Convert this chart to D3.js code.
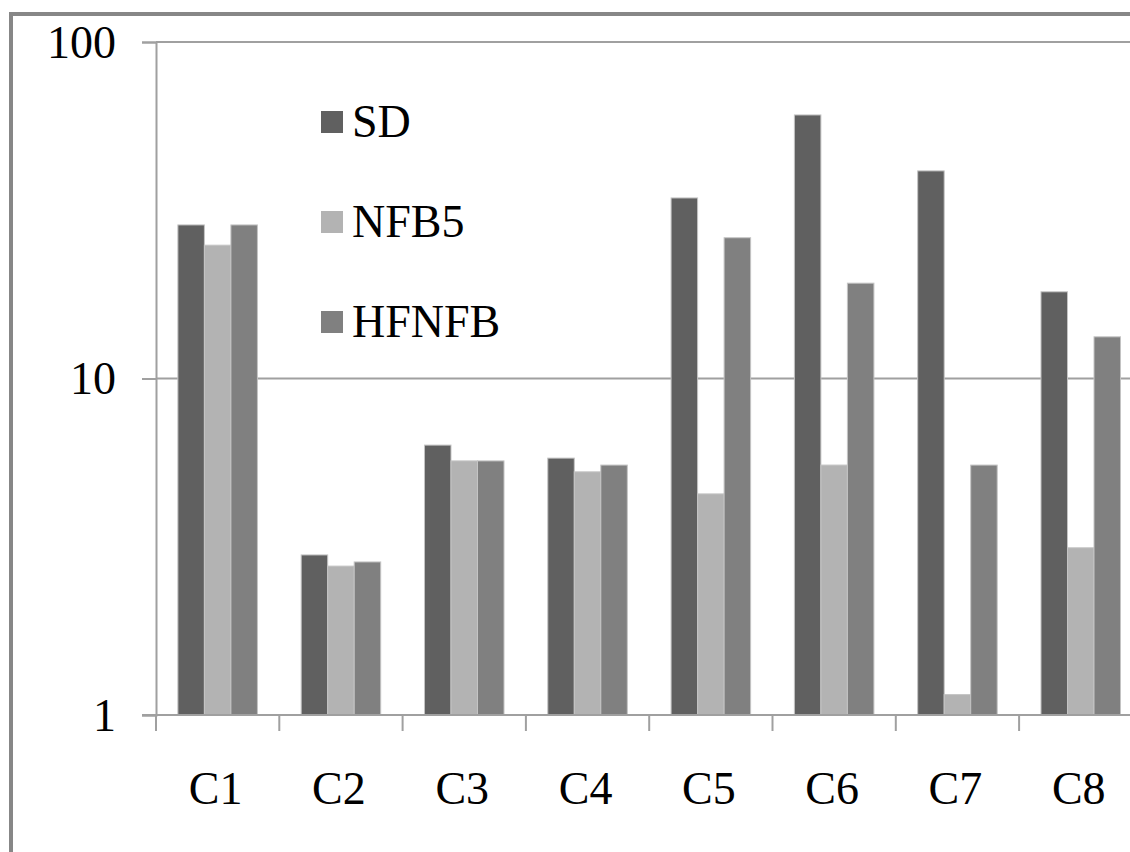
<!DOCTYPE html>
<html>
<head>
<meta charset="utf-8">
<script src="https://cdn.jsdelivr.net/npm/d3@7"></script>
<style>
  html, body { margin: 0; padding: 0; background: #fff; }
  svg { display: block; }
  svg text { font-family: "Liberation Serif", "Tinos", "Times New Roman", "DejaVu Serif", "Noto Serif", serif; fill: #000; }
</style>
</head>
<body>
<svg id="chart" width="1130" height="852"></svg>
<script>
// Categories and series
const categories = ["C1", "C2", "C3", "C4", "C5", "C6", "C7", "C8"];
const seriesNames = ["SD", "NFB5", "HFNFB"];
const sdValues    = [28.6, 2.99, 6.34, 5.80, 34.4, 60.7, 41.4, 18.1];
const nfb5Values  = [24.9, 2.77, 5.69, 5.28, 4.54, 5.53, 1.15, 3.14];
const hfnfbValues = [28.6, 2.85, 5.69, 5.53, 26.2, 19.2, 5.53, 13.3];
const yTickValues = [1, 10, 100];
const seriesColors = ["#606060", "#b3b3b3", "#808080"];

const serifFont = "'Liberation Serif', 'Tinos', 'Times New Roman', 'DejaVu Serif', 'Noto Serif', serif";

const seriesValues = [sdValues, nfb5Values, hfnfbValues];
const rows = categories.map((c, i) => ({
  category: c,
  values: seriesNames.map((s, j) => ({ series: s, value: seriesValues[j][i] }))
}));

const svg = d3.select("#chart");

// Outer frame (runs off the right and bottom edges)
svg.append("rect")
  .attr("x", 11).attr("y", 14)
  .attr("width", 1200).attr("height", 900)
  .attr("fill", "none")
  .attr("stroke", "#878787")
  .attr("stroke-width", 4);

const plotLeft = 156, plotTop = 42, plotBottom = 715;
const step = 123.3;
const plotRight = plotLeft + step * categories.length;

const x = d3.scaleBand()
  .domain(categories)
  .range([plotLeft, plotRight])
  .paddingInner(0.355)
  .paddingOuter(0.1775);

const xs = d3.scaleBand()
  .domain(seriesNames)
  .range([0, x.bandwidth()])
  .padding(0);

const y = d3.scaleLog()
  .domain([1, 100])
  .range([plotBottom, plotTop]);

const color = d3.scaleOrdinal().domain(seriesNames).range(seriesColors);

// Horizontal gridlines
svg.append("g")
  .selectAll("line")
  .data(yTickValues.filter(v => v > 1))
  .join("line")
  .attr("x1", plotLeft).attr("x2", 1130)
  .attr("y1", d => y(d)).attr("y2", d => y(d))
  .attr("stroke", "#a0a0a0")
  .attr("stroke-width", 2);

// Bars
const groups = svg.append("g")
  .selectAll("g")
  .data(rows)
  .join("g")
  .attr("transform", d => `translate(${x(d.category)},0)`);

groups.selectAll("rect")
  .data(d => d.values)
  .join("rect")
  .attr("x", d => xs(d.series))
  .attr("y", d => y(d.value))
  .attr("width", xs.bandwidth())
  .attr("height", d => y(1) - y(d.value))
  .attr("fill", d => color(d.series))
  .attr("stroke", "#c4c4c4")
  .attr("stroke-width", 1);

// Y axis
const yAxis = d3.axisLeft(y)
  .tickValues(yTickValues)
  .tickFormat(d3.format("d"))
  .tickSize(14)
  .tickPadding(26);

const yg = svg.append("g")
  .attr("transform", `translate(${plotLeft},0)`)
  .call(yAxis)
  .attr("font-family", serifFont);
yg.select(".domain").attr("stroke", "#a0a0a0").attr("stroke-width", 2);
yg.selectAll(".tick line").attr("stroke", "#a0a0a0").attr("stroke-width", 2);
yg.selectAll(".tick text")
  .style("font-family", serifFont)
  .attr("font-size", 46)
  .attr("fill", "#000")
  .attr("dy", "0.33em");

// X axis: boundary ticks between categories
const xg = svg.append("g")
  .attr("transform", `translate(0,${plotBottom})`);
xg.append("line")
  .attr("x1", plotLeft - 14).attr("x2", 1130)
  .attr("y1", 0).attr("y2", 0)
  .attr("stroke", "#a0a0a0")
  .attr("stroke-width", 2);
xg.selectAll("line.tick")
  .data(categories)
  .join("line")
  .attr("class", "tick")
  .attr("x1", d => x(d) - x.step() * x.paddingInner() / 2)
  .attr("x2", d => x(d) - x.step() * x.paddingInner() / 2)
  .attr("y1", 0).attr("y2", 16)
  .attr("stroke", "#a0a0a0")
  .attr("stroke-width", 2);
xg.selectAll("text")
  .data(categories)
  .join("text")
  .attr("x", d => x(d) + x.bandwidth() / 2 - 2)
  .attr("y", 89)
  .attr("text-anchor", "middle")
  .style("font-family", serifFont)
  .attr("font-size", 46)
  .text(d => d);

// Legend
const legend = svg.append("g");
const legendRows = legend.selectAll("g")
  .data(seriesNames)
  .join("g")
  .attr("transform", (d, i) => `translate(321,${137 + i * 100})`);
legendRows.append("rect")
  .attr("x", 0).attr("y", -26)
  .attr("width", 22).attr("height", 22)
  .attr("fill", d => color(d));
legendRows.append("text")
  .attr("x", 31).attr("y", 0)
  .style("font-family", serifFont)
  .attr("font-size", 46)
  .text(d => d);
</script>
</body>
</html>
